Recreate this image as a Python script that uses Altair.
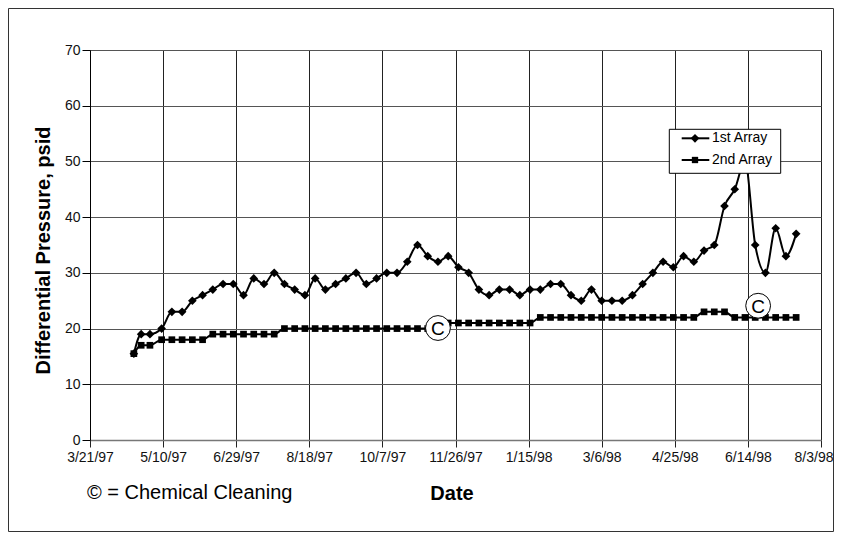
import altair as alt
import pandas as pd

FONT = "Liberation Sans, Arial, sans-serif"

# ---------------- data ----------------
dates = ["1997-04-20", "1997-04-25", "1997-05-01", "1997-05-09", "1997-05-16", "1997-05-23",
         "1997-05-30", "1997-06-06", "1997-06-13", "1997-06-20", "1997-06-27", "1997-07-04",
         "1997-07-11", "1997-07-18", "1997-07-25", "1997-08-01", "1997-08-08", "1997-08-15",
         "1997-08-22", "1997-08-29", "1997-09-05", "1997-09-12", "1997-09-19", "1997-09-26",
         "1997-10-03", "1997-10-10", "1997-10-17", "1997-10-24", "1997-10-31", "1997-11-07",
         "1997-11-14", "1997-11-21", "1997-11-28", "1997-12-05", "1997-12-12", "1997-12-19",
         "1997-12-26", "1998-01-02", "1998-01-09", "1998-01-16", "1998-01-23", "1998-01-30",
         "1998-02-06", "1998-02-13", "1998-02-20", "1998-02-27", "1998-03-06", "1998-03-13",
         "1998-03-20", "1998-03-27", "1998-04-03", "1998-04-10", "1998-04-17", "1998-04-24",
         "1998-05-01", "1998-05-08", "1998-05-15", "1998-05-22", "1998-05-29", "1998-06-05",
         "1998-06-12", "1998-06-19", "1998-06-26", "1998-07-03", "1998-07-10", "1998-07-17"]

first_array = [15.5, 19, 19, 20, 23, 23, 25, 26, 27, 28,
               28, 26, 29, 28, 30, 28, 27, 26, 29, 27,
               28, 29, 30, 28, 29, 30, 30, 32, 35, 33,
               32, 33, 31, 30, 27, 26, 27, 27, 26, 27,
               27, 28, 28, 26, 25, 27, 25, 25, 25, 26,
               28, 30, 32, 31, 33, 32, 34, 35, 42, 45,
               50, 35, 30, 38, 33, 37]

second_array = [15.5, 17, 17, 18, 18, 18, 18, 18, 19, 19,
                19, 19, 19, 19, 19, 20, 20, 20, 20, 20,
                20, 20, 20, 20, 20, 20, 20, 20, 20, 20,
                20, 21, 21, 21, 21, 21, 21, 21, 21, 21,
                22, 22, 22, 22, 22, 22, 22, 22, 22, 22,
                22, 22, 22, 22, 22, 22, 23, 23, 23, 22,
                22, 22, 22, 22, 22, 22]

series_names = ["1st Array", "2nd Array"]
legend_rows = [0, 1]

x_ticks = ["1997-03-21", "1997-05-10", "1997-06-29", "1997-08-18", "1997-10-07", "1997-11-26",
           "1998-01-15", "1998-03-06", "1998-04-25", "1998-06-14", "1998-08-03"]
y_ticks = [0, 10, 20, 30, 40, 50, 60, 70]

cleaning_dates = ["1997-11-14", "1998-06-21"]
cleaning_values = [20.1, 24.1]
cleaning_labels = ["C", "C"]

note_text = ["\u00a9 = Chemical Cleaning"]
x_title = "Date"
y_title = "Differential Pressure, psid"

# ---------------- tables ----------------
df = pd.DataFrame({
    "date": dates * 2,
    "value": first_array + second_array,
    "series": [series_names[0]] * len(dates) + [series_names[1]] * len(dates),
})
clean_df = pd.DataFrame({"date": cleaning_dates, "value": cleaning_values, "label": cleaning_labels})
legend_df = pd.DataFrame({"series": series_names, "row": legend_rows})
note_df = pd.DataFrame({"text": note_text})
one_df = pd.DataFrame({"k": [0]})


def dt(s):
    y, m, d = (int(p) for p in s.split("-"))
    return alt.DateTime(year=y, month=m, date=d, utc=True)


x_enc = alt.X(
    "date:T",
    scale=alt.Scale(type="utc", domain=[dt(x_ticks[0]), dt(x_ticks[-1])]),
    axis=alt.Axis(
        values=[dt(s) for s in x_ticks], format="%-m/%-d/%y",
        labelFontSize=14, labelFont=FONT, labelColor="#111",
        labelFlush=False, labelOverlap=False,
        labelAlign={"condition": {"test": "datum.index === 1", "value": "right"}, "value": "center"},
        labelOffset={"condition": {"test": "datum.index === 1", "value": 12}, "value": 0},
        tickSize=7, tickColor="#222", labelPadding=3,
        grid=True, gridColor="#222", gridWidth=1,
        domainColor="#777", domainWidth=1.5,
        title=x_title, titleFont=FONT, titleFontSize=20, titleFontWeight="bold",
        titleColor="#000", titleX=361.5, titleY=53, titleBaseline="middle", titleAlign="center",
    ),
)
y_enc = alt.Y(
    "value:Q",
    scale=alt.Scale(domain=[0, 70], nice=False, zero=True),
    axis=alt.Axis(
        values=y_ticks, labelFontSize=14, labelFont=FONT, labelColor="#111",
        labelFlush=False, labelOverlap=False,
        tickSize=8, tickColor="#000", labelPadding=2,
        grid=True, gridColor="#555", gridWidth=1,
        domainColor="#000", domainWidth=1,
        title=y_title, titleFont=FONT, titleFontSize=20, titleFontWeight="bold",
        titleColor="#000", titleX=-47, titleY=200, titleBaseline="middle", titleAlign="center",
        titleAngle=270,
    ),
)

base = alt.Chart(df)

lines = base.mark_line(color="black", strokeWidth=2, interpolate="monotone").encode(
    x=x_enc, y=y_enc, detail="series:N"
)
pts1 = base.transform_filter(alt.datum.series == series_names[0]).mark_point(
    shape="diamond", size=75, filled=True, color="black", opacity=1
).encode(x=x_enc, y=y_enc)
pts2 = base.transform_filter(alt.datum.series == series_names[1]).mark_point(
    shape="square", size=45, filled=True, color="black", opacity=1
).encode(x=x_enc, y=y_enc)

circ = alt.Chart(clean_df).mark_circle(
    size=616, fill="white", stroke="black", strokeWidth=1, opacity=1
).encode(x="date:T", y="value:Q")
ctext = alt.Chart(clean_df).mark_text(
    fontSize=19, font=FONT, color="black", align="center", baseline="middle", dy=1
).encode(x="date:T", y="value:Q", text="label:N")

main = alt.layer(lines, pts1, pts2, circ, ctext)

# ---------------- legend ----------------
row_y = alt.Y("row:Q", scale=alt.Scale(domain=[0, 1], range=[88.3, 110], nice=False, zero=False), axis=None)
leg_box = alt.Chart(one_df).mark_rect(
    fill="white", stroke="black", strokeWidth=1
).encode(x=alt.value(579.3), x2=alt.value(690.7), y=alt.value(79.3), y2=alt.value(123.3))
leg_rule = alt.Chart(legend_df).mark_rule(color="black", strokeWidth=2).encode(
    x=alt.value(591.7), x2=alt.value(619.3), y=row_y
)
leg_p1 = alt.Chart(legend_df).transform_filter(alt.datum.series == series_names[0]).mark_point(
    shape="diamond", size=75, filled=True, color="black", opacity=1
).encode(x=alt.value(605), y=row_y)
leg_p2 = alt.Chart(legend_df).transform_filter(alt.datum.series == series_names[1]).mark_point(
    shape="square", size=40, filled=True, color="black", opacity=1
).encode(x=alt.value(605), y=row_y)
leg_txt = alt.Chart(legend_df).mark_text(
    fontSize=14, font=FONT, color="black", align="left", baseline="middle"
).encode(x=alt.value(622), y=row_y, text="series:N")
legend = alt.layer(leg_box, leg_rule, leg_p1, leg_p2, leg_txt)

# ---------------- frame & note ----------------
frame = alt.Chart(one_df).mark_rect(
    fillOpacity=0, stroke="#333", strokeWidth=1
).encode(x=alt.value(-81.5), x2=alt.value(743.5), y=alt.value(-41.5), y2=alt.value(481.5))
note = alt.Chart(note_df).mark_text(
    fontSize=20, font=FONT, color="black", align="left", baseline="middle"
).encode(x=alt.value(-3), y=alt.value(443), text="text:N")

chart = alt.layer(frame, main, legend, note).resolve_scale(y="independent").properties(
    width=731, height=390,
    autosize=alt.AutoSizeParams(type="none"),
    padding={"left": 82, "top": 42, "right": 13, "bottom": 92},
    background="white",
).configure_view(stroke=None)

chart.save("out.html", embed_options={"renderer": "svg", "actions": False})
